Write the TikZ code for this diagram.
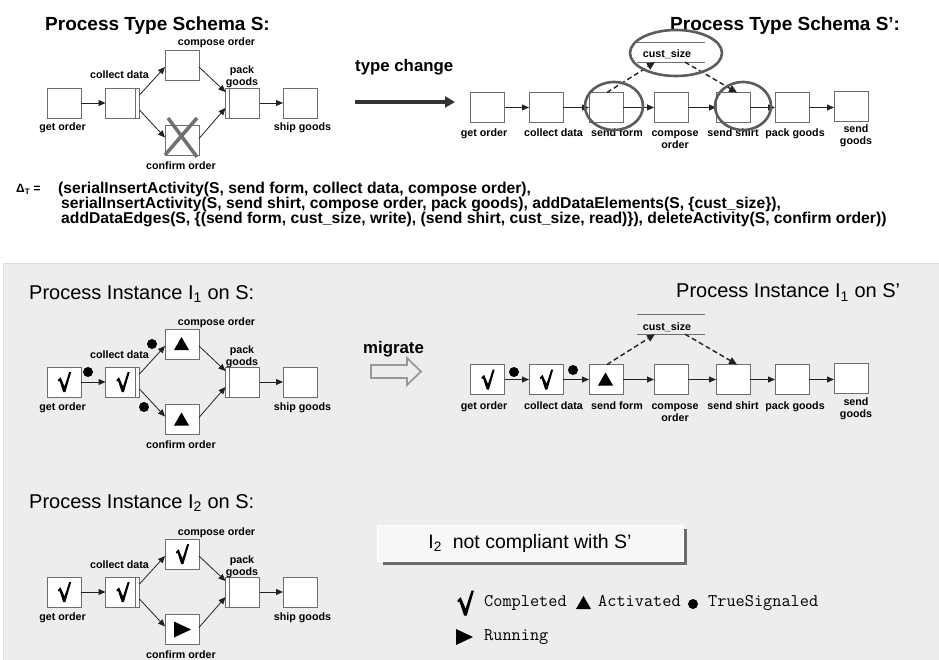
\documentclass[tikz,border=0pt]{standalone}
\usepackage{fontspec}
\setmainfont{Liberation Sans}
\usetikzlibrary{arrows.meta,calc,shapes.geometric}

\definecolor{panel}{HTML}{EDEDED}
\definecolor{boxline}{HTML}{6E6E6E}
\definecolor{ringc}{HTML}{5C5C5C}
\definecolor{crossc}{HTML}{707070}
\definecolor{flowc}{HTML}{222222}

\tikzset{
  act/.style={draw=boxline,fill=white,line width=0.9pt,minimum width=34pt,
    minimum height=30pt,inner sep=0pt,outer sep=0pt},
  lbl/.style={font=\fontsize{10.7}{12}\selectfont\bfseries,inner sep=0pt,
    anchor=base,align=center},
  title/.style={font=\fontsize{20}{20}\selectfont,inner sep=0pt,anchor=base west},
  btitle/.style={title,font=\fontsize{19}{20}\selectfont\bfseries},
  formula/.style={font=\fontsize{15.7}{16}\selectfont\bfseries,inner sep=0pt,anchor=base west},
  flow/.style={draw=flowc,line width=0.8pt,-{Triangle[length=7pt,width=6pt]}},
  dataedge/.style={draw=flowc,line width=1.4pt,dash pattern=on 5pt off 3pt,
    -{Triangle[length=8pt,width=7pt]}},
  datarule/.style={draw=boxline,line width=0.8pt},
  ring/.style={draw=ringc,line width=2.6pt,ellipse,inner sep=0pt},
  marker/.style={draw=boxline,line width=0.9pt},
  legend/.style={font=\fontsize{17.8}{18}\selectfont\ttfamily\addfontfeature{FakeBold=1},
    inner sep=0pt,anchor=base west},
}

% state symbols
\newcommand\chkmark[2][1]{\fill[black,shift={(#2)},scale=#1]
  (-6.2,-2) -- (-3.4,-4.6) -- (0.5,4.4) -- (5.2,-10) -- (7.2,-10) -- (1.4,10)
  -- (-0.8,10) -- (-4.4,-1) -- (-5.6,-0.6) -- cycle;}
\newcommand\actmark[1]{\fill[black,shift={(#1)}] (-8,6) -- (7,6) -- (-0.5,-7) -- cycle;}
\newcommand\runmark[1]{\fill[black,shift={(#1)}] (-8,-8) -- (9,0) -- (-8,8) -- cycle;}
\newcommand\sigdot[1]{\fill[black] (#1) circle (5pt);}

% process schema S (prefix, vertical offset); a two-line label sits on its last baseline
\newcommand\procS[2]{%
\begin{scope}[yshift=-#2pt]
  \node[act] (#1go) at (64,103) {};
  \node[act] (#1cd) at (122.5,103) {};
  \node[act] (#1co) at (182,65) {};
  \node[act] (#1cf) at (182,140.5) {};
  \node[act] (#1pk) at (242.5,103) {};
  \node[act] (#1sg) at (300,103) {};
  \draw[marker] ($(#1cd.north east)+(-4,0)$) -- ($(#1cd.south east)+(-4,0)$);
  \draw[marker] ($(#1pk.north west)+(4,0)$) -- ($(#1pk.south west)+(4,0)$);
  \node[lbl] (#1lgo) at (62.5,131) {get order};
  \node[lbl] (#1lcd) at (119.5,79) {collect data};
  \node[lbl] (#1lco) at (216.5,46) {compose order};
  \node[lbl] (#1lcf) at (181,169.5) {confirm order};
  \node[lbl] (#1lpk) at (242,86) {pack\\goods};
  \node[lbl] (#1lsg) at (302.5,131) {ship goods};
  \draw[flow] (#1go) -- (#1cd);
  \draw[flow] ($(#1cd.east)+(0,-8)$) -- ($(#1co.west)+(0,2)$);
  \draw[flow] ($(#1cd.east)+(0,7)$) -- ($(#1cf.west)+(0,-3)$);
  \draw[flow] ($(#1co.east)+(0,2)$) -- ($(#1pk.west)+(0,-11)$);
  \draw[flow] ($(#1cf.east)+(0,-2)$) -- ($(#1pk.west)+(0,5)$);
  \draw[flow] (#1pk) -- (#1sg);
\end{scope}}

% process schema S' (prefix, vertical offset)
\newcommand\procSp[2]{%
\begin{scope}[yshift=-#2pt]
  \node[act] (#1go) at (487.5,107.5) {};
  \node[act] (#1cd) at (546,107.5) {};
  \node[act] (#1sf) at (606,107.5) {};
  \node[act] (#1co) at (671,107.5) {};
  \node[act] (#1ss) at (733,107.5) {};
  \node[act] (#1pk) at (792,107.5) {};
  \node[act] (#1sd) at (851,106.5) {};
  \node[lbl] (#1lgo) at (484,137) {get order};
  \node[lbl] (#1lcd) at (553.5,137) {collect data};
  \node[lbl] (#1lsf) at (617,137) {send form};
  \node[lbl] (#1lco) at (675,149) {compose\\order};
  \node[lbl] (#1lss) at (733,137) {send shirt};
  \node[lbl] (#1lpk) at (795,137) {pack goods};
  \node[lbl] (#1lsd) at (856,145) {send\\goods};
  \node[inner sep=0pt,minimum width=68pt,minimum height=19pt] (#1cs) at (671,52.5) {};
  \draw[datarule] (#1cs.north west) -- (#1cs.north east)
                  (#1cs.south west) -- (#1cs.south east);
  \node[lbl] (#1lcs) at (667,58) {cust\_size};
  \draw[flow] (#1go) -- (#1cd);
  \draw[flow] (#1cd) -- (#1sf);
  \draw[flow] (#1sf) -- (#1co);
  \draw[flow] (#1co) -- (#1ss);
  \draw[flow] (#1ss) -- (#1pk);
  \draw[flow] (#1pk.east) -- (#1sd.west |- #1pk.east);
  \draw[dataedge] ($(#1sf.north)+(1,0)$) -- ($(#1cs.south)+(-16,0)$);
  \draw[dataedge] ($(#1cs.south)+(14,0)$) -- ($(#1ss.north)+(4,0)$);
\end{scope}}

\begin{document}
\begin{tikzpicture}[x=1pt,y=-1pt]
  \useasboundingbox (0,0) rectangle (939,660);
  \fill[white] (0,0) rectangle (939,660);

  % lower panel with the instances
  \fill[panel] (3,263) rectangle (939,660);
  \draw[gray!25,line width=0.6pt] (3,660) -- (3,263) -- (939,263);

  % ---------- type level ----------
  \node[btitle] (tS) at (45,30.7) {Process Type Schema S:};
  \node[btitle] (tSp) at (670,30.7) {Process Type Schema S':};
  \procS{s}{0}
  \draw[crossc,line width=3.5pt] ($(scf)+(-14,-22.5)$) -- ($(scf)+(15,16.5)$)
                                 ($(scf)+(15,-22.5)$) -- ($(scf)+(-17,14.5)$);

  \node[lbl,font=\fontsize{16.8}{18}\selectfont\bfseries,anchor=base west] (ltc) at (355,71.5) {type change};
  \coordinate (tcA) at (355,102);
  \coordinate (tcB) at (455,102);
  \draw[draw=black!80,line width=4pt,-{Triangle[length=10pt,width=11pt]}] (tcA) -- (tcB);

  \procSp{t}{0}
  \node[ring,minimum width=92pt,minimum height=46pt] (rcs) at (676,53) {};
  \node[ring,minimum width=58pt,minimum height=48pt] (rsf) at (614,106) {};
  \node[ring,minimum width=56pt,minimum height=48pt] (rss) at (743,106) {};

  % change log
  \node[formula,font=\fontsize{12}{14}\selectfont\bfseries] (dT) at (16,192.3) {Δ\textsubscript{T} =};
  \node[formula] (f1) at (58,193.3) {(serialInsertActivity(S, send form, collect data, compose order),};
  \node[formula] (f2) at (61,208.3) {serialInsertActivity(S, send shirt, compose order, pack goods), addDataElements(S, \{cust\_size\}),};
  \node[formula] (f3) at (61,223.3) {addDataEdges(S, \{(send form, cust\_size, write), (send shirt, cust\_size, read)\}), deleteActivity(S, confirm order))};

  % ---------- instance I1 ----------
  \node[title] (tI1) at (29,299) {Process Instance I\textsubscript{1} on S:};
  \procS{a}{279}
  \chkmark{ago}
  \chkmark{acd}
  \actmark{aco}
  \actmark{acf}
  \sigdot{88,372}
  \sigdot{152,344}
  \sigdot{144,407}

  \node[lbl,font=\fontsize{16.8}{18}\selectfont\bfseries,anchor=base west] (lmg) at (363,353) {migrate};
  \draw[draw=gray!80,line width=1.8pt,line join=miter] (371,365) coordinate (mgA) -- (407,365) -- (407,358)
     -- (421,371.5) coordinate (mgB) -- (407,385) -- (407,378) -- (371,378) -- cycle;

  \node[title] (tI1p) at (676,298) {Process Instance I\textsubscript{1} on S'};
  \procSp{u}{272}
  \chkmark{ugo}
  \chkmark{ucd}
  \actmark{usf}
  \sigdot{514,372}
  \sigdot{573,370}

  % ---------- instance I2 ----------
  \node[title] (tI2) at (29,508) {Process Instance I\textsubscript{2} on S:};
  \procS{b}{489}
  \chkmark{bgo}
  \chkmark{bcd}
  \chkmark{bco}
  \runmark{bcf}

  % verdict
  \node[fill=white!55!panel,draw=white,line width=1pt,minimum width=306pt,minimum height=36pt,inner sep=0pt]
     (nc) at (530,543) {};
  \draw[draw=gray!85!black,line width=3pt]
     ($(nc.south west)+(6,1.5)$) -- ($(nc.south east)+(1.5,1.5)$) -- ($(nc.north east)+(1.5,4)$);
  \node[font=\fontsize{19.5}{20}\selectfont,inner sep=0pt,anchor=base] (nct) at (530,548.3)
     {I\textsubscript{2}\ \ not compliant with S'};

  % legend
  \chkmark[1.25]{465,603}
  \node[legend] (lgc) at (484,606) {Completed};
  \actmark{584,603}
  \node[legend] (lga) at (598,606) {Activated};
  \sigdot{693,604}
  \node[legend] (lgs) at (708,606) {TrueSignaled};
  \runmark{464,637}
  \node[legend] (lgr) at (484,640) {Running};
\end{tikzpicture}
\end{document}
